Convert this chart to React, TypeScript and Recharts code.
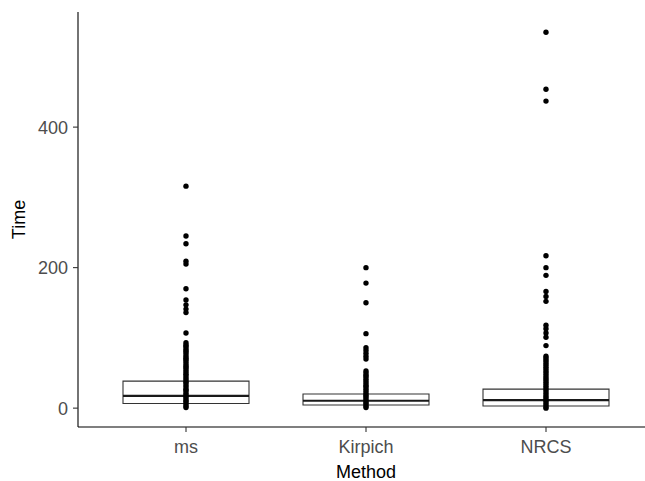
import React from 'react'
import {
  ComposedChart,
  XAxis,
  YAxis,
  Scatter,
  ReferenceArea,
  ReferenceLine,
} from 'recharts'

const methods = ['ms', 'Kirpich', 'NRCS']

// box statistics
const q1 = [6.7, 4.4, 3.0]
const medians = [17.5, 10.5, 11.5]
const q3 = [38.4, 20.1, 27.0]
const whiskerLow = [0, 0, 0]
const whiskerHigh = [86, 43, 63]

// every observation, drawn as dots
const msTimes = [
  316, 245, 234, 209, 205, 170, 154, 147, 141, 136, 107, 93, 90, 88, 85, 82,
  80, 77, 74, 71, 69, 66, 63, 60, 58, 55, 52, 49, 47, 44, 41, 38, 36, 33, 30,
  27, 25, 22, 19, 17, 14, 11, 9, 6, 3, 1,
]
const kirpichTimes = [
  200, 178, 150, 106, 86, 82, 78, 74, 70, 53, 50, 47, 45, 42, 39, 36, 33, 31,
  28, 25, 22, 19, 17, 14, 11, 8, 6, 3, 1,
]
const nrcsTimes = [
  535, 454, 437, 217, 200, 189, 166, 159, 152, 118, 113, 107, 101, 89, 74, 71,
  68, 65, 62, 59, 56, 53, 50, 47, 44, 41, 38, 35, 32, 29, 26, 23, 20, 17, 14,
  11, 8, 5, 2, 0,
]

const yTicks = [0, 200, 400]
const boxHalf = 0.35

const seriesTimes = [msTimes, kirpichTimes, nrcsTimes]
const pointSets = seriesTimes.map((vals, i) => vals.map((v) => ({ x: i + 1, y: v })))

const dot = (p: any) => <circle cx={p.cx} cy={p.cy} r={2.7} fill="#000000" />

const tickStyle = { fill: '#4D4D4D', fontSize: 18 }

export default function App() {
  return (
    <div
      style={{
        position: 'fixed',
        left: 0,
        top: 0,
        width: 645,
        height: 481,
        overflow: 'hidden',
        fontFamily: '"Liberation Sans", Arial, sans-serif',
        background: '#fff',
      }}
    >
      <ComposedChart
        width={660}
        height={481}
        margin={{ top: 12, right: 6, bottom: 16, left: 0 }}
      >
        <XAxis
          type="number"
          dataKey="x"
          domain={[0.4, 3.6]}
          ticks={[1, 2, 3]}
          allowDataOverflow
          tickFormatter={(v: number) => methods[v - 1]}
          height={38}
          tickSize={5}
          tickMargin={8}
          tick={tickStyle}
          axisLine={{ stroke: '#000', strokeWidth: 1.1 }}
          tickLine={{ stroke: '#333', strokeWidth: 1.1 }}
          label={{ value: 'Method', position: 'bottom', offset: 0, fill: '#000', fontSize: 18 }}
        />
        <YAxis
          type="number"
          dataKey="y"
          domain={[-26.85, 563.85]}
          ticks={yTicks}
          allowDataOverflow
          width={78}
          tickSize={5}
          tickMargin={5}
          tick={tickStyle}
          axisLine={{ stroke: '#000', strokeWidth: 1.1 }}
          tickLine={{ stroke: '#333', strokeWidth: 1.1 }}
          label={{
            value: 'Time',
            angle: -90,
            position: 'insideLeft',
            offset: 19,
            fill: '#000',
            fontSize: 18,
            style: { textAnchor: 'middle' },
          }}
        />
        {methods.map((m, i) => (
          <ReferenceLine
            key={'wl' + m}
            segment={[
              { x: i + 1, y: whiskerLow[i] },
              { x: i + 1, y: q1[i] },
            ]}
            stroke="#333"
            strokeWidth={1.1}
          />
        ))}
        {methods.map((m, i) => (
          <ReferenceLine
            key={'wh' + m}
            segment={[
              { x: i + 1, y: q3[i] },
              { x: i + 1, y: whiskerHigh[i] },
            ]}
            stroke="#333"
            strokeWidth={1.1}
          />
        ))}
        {methods.map((m, i) => (
          <ReferenceArea
            key={'box' + m}
            x1={i + 1 - boxHalf}
            x2={i + 1 + boxHalf}
            y1={q1[i]}
            y2={q3[i]}
            fill="none"
            stroke="#333"
            strokeWidth={1.1}
            fillOpacity={0}
            strokeOpacity={1}
          />
        ))}
        {methods.map((m, i) => (
          <ReferenceLine
            key={'med' + m}
            segment={[
              { x: i + 1 - boxHalf, y: medians[i] },
              { x: i + 1 + boxHalf, y: medians[i] },
            ]}
            stroke="#1a1a1a"
            strokeWidth={2.2}
          />
        ))}
        {methods.map((m, i) => (
          <Scatter
            key={'pts' + m}
            name={m}
            data={pointSets[i]}
            shape={dot}
            isAnimationActive={false}
          />
        ))}
      </ComposedChart>
    </div>
  )
}
